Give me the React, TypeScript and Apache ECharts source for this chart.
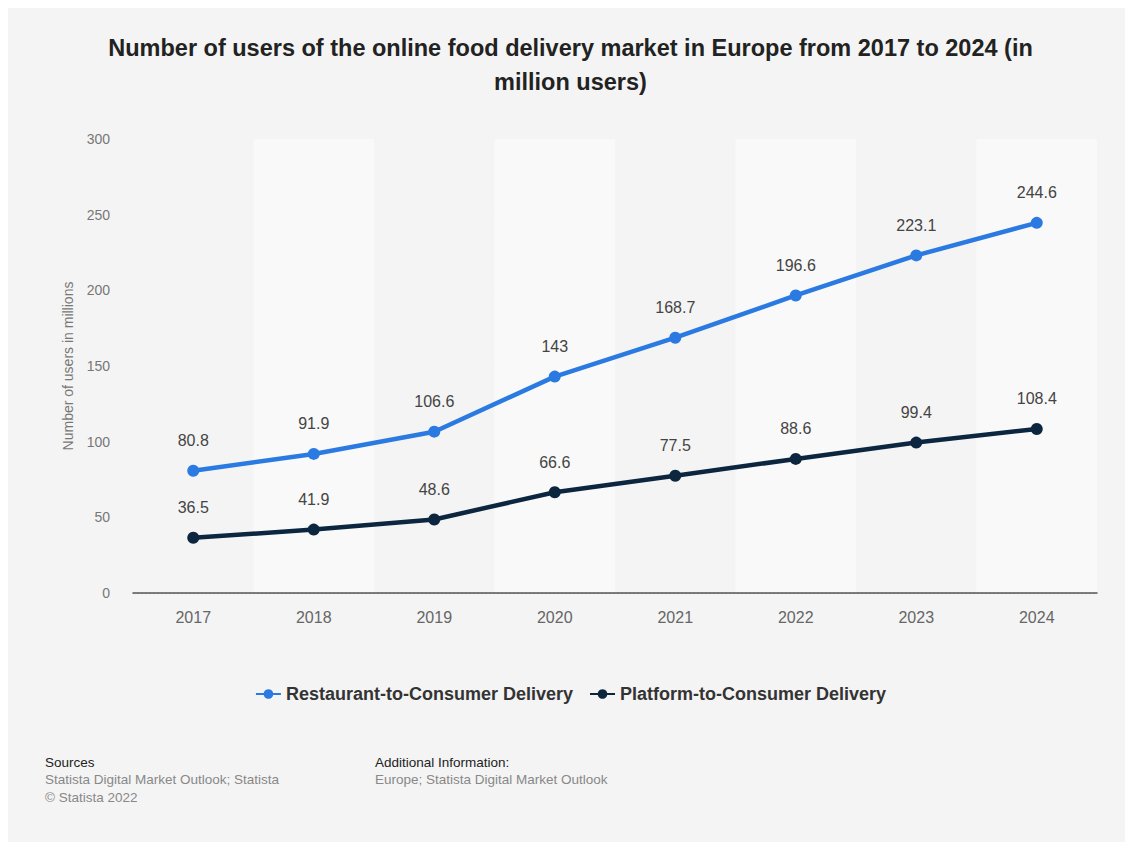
import React, { useEffect, useRef } from "react";
import * as echarts from "echarts";

const years = ["2017", "2018", "2019", "2020", "2021", "2022", "2023", "2024"];
const restaurantToConsumer = [80.8, 91.9, 106.6, 143, 168.7, 196.6, 223.1, 244.6];
const platformToConsumer = [36.5, 41.9, 48.6, 66.6, 77.5, 88.6, 99.4, 108.4];
const seriesNames = ["Restaurant-to-Consumer Delivery", "Platform-to-Consumer Delivery"];
const titleText =
  "Number of users of the online food delivery market in Europe from 2017 to 2024 (in\nmillion users)";
const yAxisName = "Number of users in millions";
const sourcesLines = ["Statista Digital Market Outlook; Statista", "© Statista 2022"];
const additionalLines = ["Europe; Statista Digital Market Outlook"];

const FONT = "'Liberation Sans', Arial, Helvetica, sans-serif";

export default function App() {
  const ref = useRef<HTMLDivElement>(null);

  useEffect(() => {
    if (!ref.current) return;
    const chart = echarts.init(ref.current, undefined, { renderer: "svg" });
    const labelStyle = {
      show: true,
      position: "top" as const,
      distance: 16,
      color: "#444",
      fontSize: 16,
      fontFamily: FONT,
    };
    chart.setOption({
      animation: false,
      backgroundColor: "#f4f4f4",
      textStyle: { fontFamily: FONT },
      title: {
        text: titleText,
        left: "center",
        top: 18,
        textStyle: {
          fontSize: 23.5,
          fontWeight: "bold",
          color: "#222",
          lineHeight: 34,
          fontFamily: FONT,
        },
      },
      grid: { left: 125, right: 36, top: 131, bottom: 249 },
      xAxis: {
        type: "category",
        data: years,
        boundaryGap: true,
        axisLine: { show: true, lineStyle: { color: "#555", width: 1.5 } },
        axisTick: { show: false },
        axisLabel: { color: "#666", fontSize: 16, margin: 16, fontFamily: FONT },
        splitArea: { show: true, areaStyle: { color: ["#f4f4f4", "#f9f9f9"] } },
      },
      yAxis: {
        type: "value",
        min: 0,
        max: 300,
        interval: 50,
        name: yAxisName,
        nameLocation: "middle",
        nameGap: 58,
        nameTextStyle: { color: "#777", fontSize: 14, fontFamily: FONT },
        axisLine: { show: false },
        axisTick: { show: false },
        axisLabel: { color: "#777", fontSize: 14, margin: 23, fontFamily: FONT },
        splitLine: { show: true, lineStyle: { color: "#c8c8c8", type: [2, 2], width: 1 } },
      },
      legend: {
        top: 672,
        left: "center",
        itemWidth: 25,
        itemHeight: 12,
        itemGap: 16,
        textStyle: { fontSize: 18, fontWeight: "bold", color: "#333", fontFamily: FONT },
        data: seriesNames,
      },
      series: [
        {
          name: seriesNames[0],
          type: "line",
          data: restaurantToConsumer,
          symbol: "circle",
          symbolSize: 12,
          lineStyle: { color: "#2a7ae2", width: 4.5 },
          itemStyle: { color: "#2a7ae2" },
          label: labelStyle,
        },
        {
          name: seriesNames[1],
          type: "line",
          data: platformToConsumer,
          symbol: "circle",
          symbolSize: 12,
          lineStyle: { color: "#0d2640", width: 4.5 },
          itemStyle: { color: "#0d2640" },
          label: labelStyle,
        },
      ],
      graphic: [
        {
          type: "text",
          left: 37,
          top: 747,
          style: { text: "Sources", fill: "#222", font: `13.5px ${FONT}` },
        },
        {
          type: "text",
          left: 37,
          top: 762,
          style: { text: sourcesLines.join("\n"), fill: "#888", font: `13.5px ${FONT}`, lineHeight: 18 },
        },
        {
          type: "text",
          left: 367,
          top: 747,
          style: { text: "Additional Information:", fill: "#222", font: `13.5px ${FONT}` },
        },
        {
          type: "text",
          left: 367,
          top: 762,
          style: { text: additionalLines.join("\n"), fill: "#888", font: `13.5px ${FONT}`, lineHeight: 18 },
        },
      ],
    });
    return () => chart.dispose();
  }, []);

  return <div ref={ref} style={{ width: 1125, height: 834 }} />;
}
